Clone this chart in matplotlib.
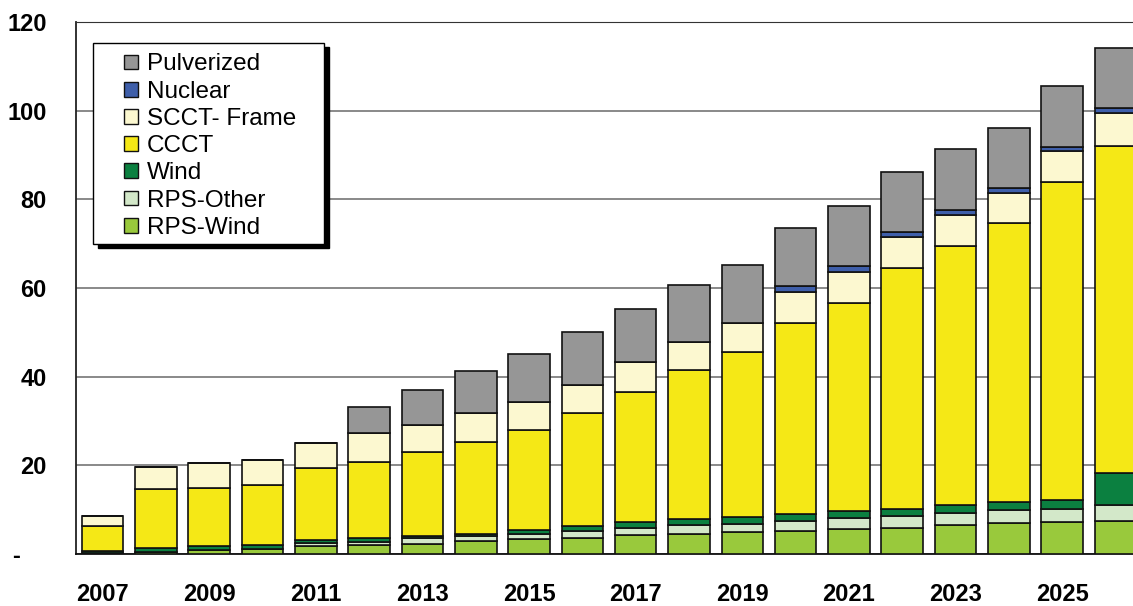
import matplotlib
matplotlib.use("Agg")
import matplotlib.pyplot as plt
from matplotlib.patches import Rectangle
import numpy as np

years = [str(y) for y in range(2007, 2027)]

rps_wind   = [0.15, 0.55, 0.85, 1.1, 1.9, 2.0, 2.3, 2.9, 3.3, 3.5, 4.2, 4.5, 4.9, 5.3, 5.6, 5.8, 6.5, 6.9, 7.3, 7.5]
rps_other  = [0.0, 0.0, 0.0, 0.0, 0.65, 0.8, 1.2, 1.2, 1.3, 1.8, 1.7, 2.0, 1.9, 2.2, 2.6, 2.8, 2.8, 3.0, 2.9, 3.5]
wind       = [0.6, 0.85, 0.85, 0.9, 0.65, 0.7, 0.6, 0.5, 0.8, 1.0, 1.4, 1.5, 1.5, 1.5, 1.4, 1.6, 1.7, 1.8, 2.0, 7.2]
ccct       = [5.55, 13.2, 13.3, 13.6, 16.1, 17.3, 18.8, 20.6, 22.5, 25.6, 29.2, 33.5, 37.2, 43.2, 47.0, 54.3, 58.5, 62.9, 71.7, 73.9]
scct_frame = [2.3, 5.0, 5.6, 5.6, 5.8, 6.4, 6.3, 6.7, 6.3, 6.2, 6.7, 6.4, 6.7, 7.0, 6.9, 7.0, 7.0, 6.8, 6.9, 7.4]
nuclear    = [0, 0, 0, 0, 0, 0, 0, 0, 0, 0, 0, 0, 0, 1.3, 1.4, 1.1, 1.2, 1.1, 1.1, 1.0]
pulverized = [0, 0, 0, 0, 0, 6.0, 7.7, 9.3, 11.0, 11.9, 12.0, 12.7, 13.0, 13.0, 13.7, 13.6, 13.7, 13.7, 13.6, 13.7]

series = [
    ("RPS-Wind", rps_wind, "#99C93C"),
    ("RPS-Other", rps_other, "#D3E8C9"),
    ("Wind", wind, "#0B8040"),
    ("CCCT", ccct, "#F5E816"),
    ("SCCT- Frame", scct_frame, "#FCF8D0"),
    ("Nuclear", nuclear, "#3F5FAA"),
    ("Pulverized", pulverized, "#969696"),
]

plt.rcParams['font.family'] = ['Liberation Sans', 'DejaVu Sans']

W, H = 1133, 606
fig = plt.figure(figsize=(W / 100, H / 100), dpi=100)
ax = fig.add_axes([76 / W, 1 - 554 / H, (1133 - 76) / W, (554 - 22) / H])

x = np.arange(len(years))
bottom = np.zeros(len(years))
handles = {}
for name, vals, col in series:
    v = np.array(vals, dtype=float)
    b = ax.bar(x, v, 0.78, bottom=bottom, color=col, edgecolor="#111111",
               linewidth=1.2, label=name, zorder=3)
    handles[name] = b
    bottom += v

ax.set_ylim(0, 120)
ax.set_xlim(-0.5, 19.33)
ax.set_yticks(range(0, 121, 20))
ax.set_yticklabels(["", "20", "40", "60", "80", "100", "120"],
                   fontsize=17, fontweight="bold")
ax.set_xticks(x[::2])
ax.set_xticklabels(years[::2], fontsize=17, fontweight="bold")
ax.tick_params(axis="y", length=0, pad=21)
ax.tick_params(axis="x", length=0, pad=21)
ax.yaxis.grid(True, color="#808080", linewidth=1.3, zorder=0)
ax.set_axisbelow(True)
ax.spines["right"].set_visible(False)
ax.spines["top"].set_color("#333333")
ax.spines["left"].set_color("#222222")
ax.spines["bottom"].set_color("#111111")
ax.spines["left"].set_linewidth(1.3)
ax.spines["bottom"].set_linewidth(1.3)

fig.text(16 / W, 1 - 557 / H, "-", fontsize=17, fontweight="bold",
         ha="center", va="center")

# legend frame with shadow (figure pixel coordinates)
bx0, bx1, by0, by1 = 93, 324, 43, 244
fig.patches.append(Rectangle(((bx0 + 5) / W, 1 - (by1 + 4) / H), (bx1 - bx0) / W,
                             (by1 - by0) / H, transform=fig.transFigure,
                             facecolor="black", edgecolor="black", zorder=8))
fig.patches.append(Rectangle((bx0 / W, 1 - by1 / H), (bx1 - bx0) / W,
                             (by1 - by0) / H, transform=fig.transFigure,
                             facecolor="white", edgecolor="black",
                             linewidth=1.0, zorder=9))

order = ["Pulverized", "Nuclear", "SCCT- Frame", "CCCT", "Wind", "RPS-Other", "RPS-Wind"]
leg = fig.legend([handles[n] for n in order], order,
                 loc="upper left", bbox_to_anchor=(124 / W, 1 - 53.5 / H),
                 bbox_transform=fig.transFigure, borderaxespad=0,
                 fontsize=17.5, frameon=False,
                 handlelength=0.56, handleheight=0.56, handletextpad=0.38,
                 labelspacing=0.215, borderpad=0)
leg.set_zorder(10)
for p in leg.get_patches():
    p.set_linewidth(1.0)

fig.savefig("out.png", dpi=100)
